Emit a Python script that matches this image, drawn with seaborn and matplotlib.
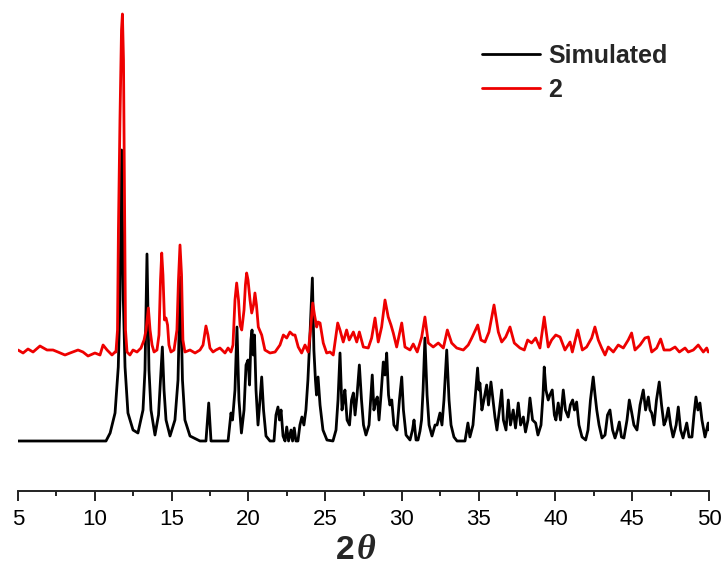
import matplotlib
matplotlib.use("Agg")
import matplotlib.pyplot as plt
import seaborn as sns
import pandas as pd

# ---------------- data ----------------
sim_2theta = [
    5.00, 10.73, 11.00, 11.32, 11.53, 11.64, 11.75, 11.86, 11.97, 12.16,
    12.49, 12.81, 13.14, 13.27, 13.40, 13.53, 13.66, 13.92, 14.15, 14.28,
    14.40, 14.51, 14.64, 14.90, 15.22, 15.42, 15.57, 15.71, 15.87, 16.20,
    16.85, 17.24, 17.42, 17.57, 18.68, 18.87, 18.97, 19.13, 19.26, 19.39,
    19.55, 19.72, 19.85, 19.98, 20.08, 20.17, 20.24, 20.32, 20.40, 20.50,
    20.63, 20.76, 20.87, 20.99, 21.15, 21.41, 21.67, 21.80, 21.93, 22.03,
    22.13, 22.26, 22.39, 22.50, 22.62, 22.78, 22.88, 22.99, 23.10, 23.23,
    23.36, 23.49, 23.62, 23.75, 23.88, 24.00, 24.17, 24.27, 24.37, 24.44,
    24.54, 24.67, 24.86, 25.12, 25.51, 25.71, 25.84, 25.97, 26.10, 26.20,
    26.29, 26.43, 26.59, 26.72, 26.84, 26.95, 27.08, 27.23, 27.37, 27.50,
    27.66, 27.86, 27.99, 28.07, 28.18, 28.31, 28.40, 28.51, 28.64, 28.79,
    28.90, 29.01, 29.13, 29.22, 29.34, 29.48, 29.68, 29.84, 29.99, 30.10,
    30.27, 30.53, 30.69, 30.79, 30.92, 31.05, 31.18, 31.28, 31.38, 31.50,
    31.64, 31.77, 31.96, 32.16, 32.29, 32.48, 32.61, 32.74, 32.92, 33.07,
    33.20, 33.39, 33.59, 34.11, 34.30, 34.43, 34.63, 34.79, 34.93, 35.02,
    35.08, 35.21, 35.34, 35.52, 35.64, 35.80, 35.93, 36.06, 36.19, 36.35,
    36.50, 36.61, 36.78, 36.93, 37.07, 37.25, 37.40, 37.58, 37.73, 37.91,
    38.05, 38.21, 38.34, 38.51, 38.71, 38.86, 39.06, 39.19, 39.27, 39.38,
    39.53, 39.64, 39.79, 39.93, 40.03, 40.18, 40.33, 40.51, 40.65, 40.83,
    40.97, 41.12, 41.24, 41.38, 41.53, 41.73, 41.97, 42.12, 42.28, 42.46,
    42.58, 42.69, 42.84, 43.03, 43.23, 43.39, 43.55, 43.72, 43.88, 44.04,
    44.16, 44.30, 44.46, 44.66, 44.81, 44.96, 45.11, 45.31, 45.51, 45.72,
    45.87, 46.05, 46.16, 46.27, 46.42, 46.58, 46.76, 46.91, 47.07, 47.20,
    47.35, 47.50, 47.66, 47.86, 48.00, 48.15, 48.31, 48.55, 48.70, 48.89,
    49.02, 49.15, 49.28, 49.41, 49.54, 49.74, 49.95, 50.00,
]
sim_intensity = [
    0, 0, 8, 28, 74, 141, 291, 141, 74, 28,
    11, 8, 31, 71, 187, 71, 31, 6, 26, 61,
    94, 51, 21, 5, 21, 61, 164, 61, 21, 5,
    0, 0, 38, 0, 0, 28, 21, 51, 114, 41,
    8, 31, 76, 81, 56, 101, 111, 86, 106, 51,
    16, 41, 64, 31, 5, 0, 0, 26, 34, 21,
    31, 5, 0, 14, 0, 11, 0, 13, 0, 0,
    16, 24, 16, 31, 61, 101, 163, 91, 61, 46,
    64, 36, 11, 1, 0, 11, 41, 88, 31, 41,
    51, 21, 16, 41, 48, 26, 46, 76, 41, 16,
    6, 16, 46, 66, 31, 41, 44, 21, 46, 79,
    66, 88, 46, 36, 41, 16, 11, 41, 64, 31,
    6, 1, 11, 21, 1, 1, 10, 21, 51, 103,
    46, 16, 5, 16, 16, 28, 16, 41, 91, 41,
    16, 4, 0, 0, 18, 4, 16, 46, 73, 51,
    58, 31, 41, 56, 36, 59, 41, 24, 11, 31,
    51, 21, 11, 41, 16, 31, 13, 38, 16, 24,
    9, 21, 43, 21, 18, 6, 16, 46, 74, 51,
    41, 46, 51, 26, 21, 38, 21, 51, 31, 24,
    36, 41, 31, 39, 16, 4, 1, 11, 41, 64,
    46, 31, 16, 3, 6, 26, 31, 11, 3, 11,
    19, 4, 3, 21, 41, 29, 16, 11, 36, 51,
    31, 44, 31, 28, 16, 41, 59, 36, 16, 21,
    33, 16, 4, 16, 34, 11, 3, 18, 4, 4,
    26, 44, 31, 38, 21, 4, 18, 11,
]

exp_2theta = [
    5.00, 5.33, 5.65, 5.98, 6.43, 6.89, 7.28, 7.60, 8.06, 8.39,
    8.91, 9.23, 9.56, 10.01, 10.34, 10.54, 10.80, 11.12, 11.32, 11.38,
    11.48, 11.54, 11.64, 11.74, 11.80, 11.87, 11.94, 12.00, 12.10, 12.29,
    12.49, 12.75, 13.01, 13.21, 13.34, 13.49, 13.60, 13.73, 13.86, 14.05,
    14.18, 14.28, 14.36, 14.44, 14.54, 14.64, 14.74, 14.83, 14.96, 15.16,
    15.35, 15.45, 15.55, 15.65, 15.74, 15.87, 16.20, 16.53, 16.85, 17.05,
    17.24, 17.37, 17.50, 17.70, 17.89, 18.15, 18.48, 18.68, 18.87, 19.00,
    19.13, 19.24, 19.36, 19.46, 19.57, 19.72, 19.81, 19.89, 19.98, 20.11,
    20.22, 20.34, 20.43, 20.53, 20.65, 20.87, 21.08, 21.41, 21.74, 22.06,
    22.28, 22.50, 22.71, 22.91, 23.04, 23.25, 23.47, 23.69, 23.90, 24.05,
    24.19, 24.31, 24.45, 24.54, 24.67, 24.88, 25.10, 25.32, 25.53, 25.71,
    25.82, 25.97, 26.18, 26.40, 26.57, 26.84, 27.06, 27.23, 27.49, 27.81,
    28.03, 28.25, 28.46, 28.68, 28.90, 29.11, 29.29, 29.44, 29.66, 29.99,
    30.20, 30.53, 30.74, 31.00, 31.29, 31.50, 31.72, 32.04, 32.37, 32.70,
    32.96, 33.24, 33.57, 34.00, 34.32, 34.55, 34.94, 35.15, 35.41, 35.67,
    36.00, 36.28, 36.50, 36.76, 37.04, 37.32, 37.69, 37.97, 38.19, 38.45,
    38.71, 38.99, 39.27, 39.53, 39.75, 40.02, 40.30, 40.62, 40.95, 41.10,
    41.45, 41.75, 42.03, 42.36, 42.57, 42.79, 43.01, 43.23, 43.44, 43.77,
    44.09, 44.42, 44.74, 44.96, 45.18, 45.51, 45.83, 46.05, 46.27, 46.59,
    46.85, 47.07, 47.46, 47.79, 48.07, 48.44, 48.65, 48.98, 49.30, 49.63,
    49.85, 49.95,
]
exp_intensity = [
    91, 88, 92, 89, 95, 91, 91, 89, 86, 88,
    91, 89, 85, 88, 86, 96, 91, 86, 89, 89,
    111, 211, 321, 411, 427, 381, 241, 111, 89, 86,
    91, 89, 93, 101, 111, 133, 111, 96, 89, 91,
    106, 161, 188, 166, 121, 123, 116, 96, 89, 91,
    111, 161, 196, 166, 101, 89, 91, 88, 91, 96,
    115, 106, 93, 89, 91, 93, 88, 93, 89, 96,
    141, 158, 141, 116, 111, 131, 156, 168, 161, 141,
    128, 136, 148, 136, 114, 106, 91, 88, 89, 96,
    106, 103, 109, 106, 106, 94, 88, 96, 89, 111,
    138, 126, 114, 119, 118, 98, 88, 89, 86, 106,
    118, 111, 99, 111, 101, 109, 99, 109, 94, 93,
    103, 123, 99, 114, 141, 124, 116, 108, 94, 118,
    94, 91, 97, 89, 104, 124, 98, 94, 98, 93,
    111, 98, 93, 91, 96, 103, 116, 101, 99, 109,
    136, 109, 99, 104, 114, 98, 93, 91, 101, 98,
    103, 93, 124, 94, 101, 106, 104, 91, 99, 89,
    111, 91, 94, 103, 114, 101, 93, 86, 94, 89,
    96, 93, 101, 108, 91, 96, 103, 104, 89, 93,
    102, 91, 91, 94, 89, 93, 89, 91, 96, 89,
    93, 89,
]

series_labels = ["Simulated", "2"]
series_colors = ["black", "#ee0000"]
x_ticks = [5, 10, 15, 20, 25, 30, 35, 40, 45, 50]

# ---------------- figure ----------------
sns.set_style("white")
plt.rcParams["font.family"] = ["Liberation Sans", "DejaVu Sans"]

W, H = 726, 567
fig = plt.figure(figsize=(W / 100, H / 100), dpi=100)
ax = fig.add_axes([18 / W, 76 / H, 691 / W, 481 / H])

df_sim = pd.DataFrame({"two_theta": sim_2theta, "intensity": sim_intensity})
df_exp = pd.DataFrame({"two_theta": exp_2theta, "intensity": exp_intensity})

sns.lineplot(data=df_sim, x="two_theta", y="intensity", color=series_colors[0],
             linewidth=2.0, estimator=None, sort=False, ax=ax, label=series_labels[0])
sns.lineplot(data=df_exp, x="two_theta", y="intensity", color=series_colors[1],
             linewidth=2.0, estimator=None, sort=False, ax=ax, label=series_labels[1])

ax.set_xlim(5, 50)
ax.set_ylim(-50, 431)
ax.set_xticks(x_ticks)
ax.set_xticks([t + 2.5 for t in x_ticks[:-1]], minor=True)
ax.set_yticks([])
ax.set_ylabel("")
ax.set_xlabel("")
for side in ["left", "top", "right"]:
    ax.spines[side].set_visible(False)
ax.spines["bottom"].set_linewidth(1.4)
ax.spines["bottom"].set_color("#222222")
ax.tick_params(axis="x", which="major", direction="out", length=7, width=1.4,
               labelsize=16, pad=6, colors="#222222", labelcolor="black", bottom=True)
ax.tick_params(axis="x", which="minor", direction="out", length=3.5, width=1.4,
               colors="#222222", bottom=True)

# axis title "2θ": bold upright 2, bold italic θ
fig.text(336 / W, 1 - 559 / H, "2", fontsize=24, fontweight="bold",
         family="Liberation Sans", ha="left", va="baseline")
fig.text(357 / W, 1 - 559 / H, "\u03b8", fontsize=26, fontweight="bold",
         style="italic", family="Liberation Serif", ha="left", va="baseline")

leg = ax.legend(loc="upper left", bbox_to_anchor=(482 / W, 1 - 44 / H),
                bbox_transform=fig.transFigure, frameon=False,
                prop={"weight": "bold", "size": 18}, handlelength=2.3,
                handletextpad=0.35, labelspacing=0.4, borderpad=0, borderaxespad=0)
for line in leg.get_lines():
    line.set_linewidth(2.0)

fig.savefig("out.png", dpi=100)
